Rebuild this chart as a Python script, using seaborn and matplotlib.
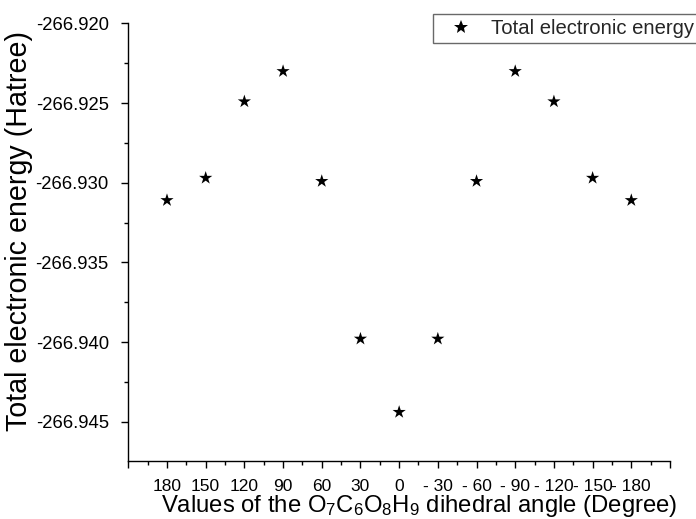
import numpy as np
import pandas as pd
import matplotlib
matplotlib.use("Agg")
import matplotlib.pyplot as plt
import seaborn as sns
from matplotlib.ticker import MultipleLocator, FixedLocator

angles = [180, 150, 120, 90, 60, 30, 0, -30, -60, -90, -120, -150, -180]
energies = [-266.9311, -266.9297, -266.9249, -266.9230, -266.9299, -266.9398,
            -266.9444, -266.9398, -266.9299, -266.9230, -266.9249, -266.9297, -266.9311]
tick_labels = ["180", "150", "120", "90", "60", "30", "0",
               "- 30", "- 60", "- 90", "- 120", "- 150", "- 180"]
series_name = "Total electronic energy"

df = pd.DataFrame({"angle": angles, "energy": energies, "series": series_name})

sns.set_theme(style="ticks")
plt.rcParams["font.family"] = ["Liberation Sans", "DejaVu Sans"]
plt.rcParams["mathtext.default"] = "regular"

fig = plt.figure(figsize=(6.96, 5.19), dpi=100)
ax = fig.add_axes([128.3 / 696, 1 - 461 / 519, (670 - 128.3) / 696, (461 - 23.5) / 519])

sns.scatterplot(data=df, x="angle", y="energy", hue="series", palette=["black"],
                marker="*", s=100, linewidth=0, ax=ax, legend=True)

ax.set_xlim(210, -210)
ax.set_ylim(-266.94747, -266.920)

major_x = list(range(210, -211, -30))
ax.xaxis.set_major_locator(FixedLocator(major_x))
ax.set_xticklabels([""] + tick_labels + [""])
ax.xaxis.set_minor_locator(MultipleLocator(15))

ax.set_yticks([-266.920, -266.925, -266.930, -266.935, -266.940, -266.945])
ax.set_yticklabels(["-266.920", "-266.925", "-266.930", "-266.935", "-266.940", "-266.945"])
ax.yaxis.set_minor_locator(MultipleLocator(0.0025))

for side in ["top", "right"]:
    ax.spines[side].set_visible(False)
for side in ["left", "bottom"]:
    ax.spines[side].set_color("black")
    ax.spines[side].set_linewidth(1.0)

ax.tick_params(axis="both", which="major", direction="out", length=5, width=1.0, color="black")
ax.tick_params(axis="both", which="minor", direction="out", length=3, width=1.0, color="black")
ax.tick_params(axis="x", which="major", labelsize=12.5, pad=8, labelcolor="black")
ax.tick_params(axis="y", which="major", labelsize=13.3, pad=9, labelcolor="black")

ax.set_xlabel("Values of the O$_7$C$_6$O$_8$H$_9$ dihedral angle (Degree)",
              fontsize=17.2, color="black")
ax.xaxis.label.set_va("baseline")
ax.xaxis.set_label_coords(0.5367, (461 - 512) / 437.5)

ax.set_ylabel("Total electronic energy (Hatree)", fontsize=20.6, color="black")
ax.yaxis.set_label_coords((33 - 128.3) / 541.7, (461 - 231) / 437.5)

leg = ax.legend(loc="upper left",
                bbox_to_anchor=(433 / 696, 1 - 43 / 519, 300 / 696, 29 / 519),
                bbox_transform=fig.transFigure, mode="expand", borderaxespad=0,
                frameon=True, fancybox=False, fontsize=14.6, borderpad=0.25,
                handlelength=2.3, handletextpad=0.3, markerscale=1.0)
leg.get_frame().set_edgecolor("#444444")
leg.get_frame().set_linewidth(1.0)
for h in leg.legend_handles:
    h.set_marker("*")
    h.set_markersize(np.sqrt(100))
    h.set_markeredgewidth(0)
    h.set_color("black")

fig.savefig("out.png", dpi=100)
